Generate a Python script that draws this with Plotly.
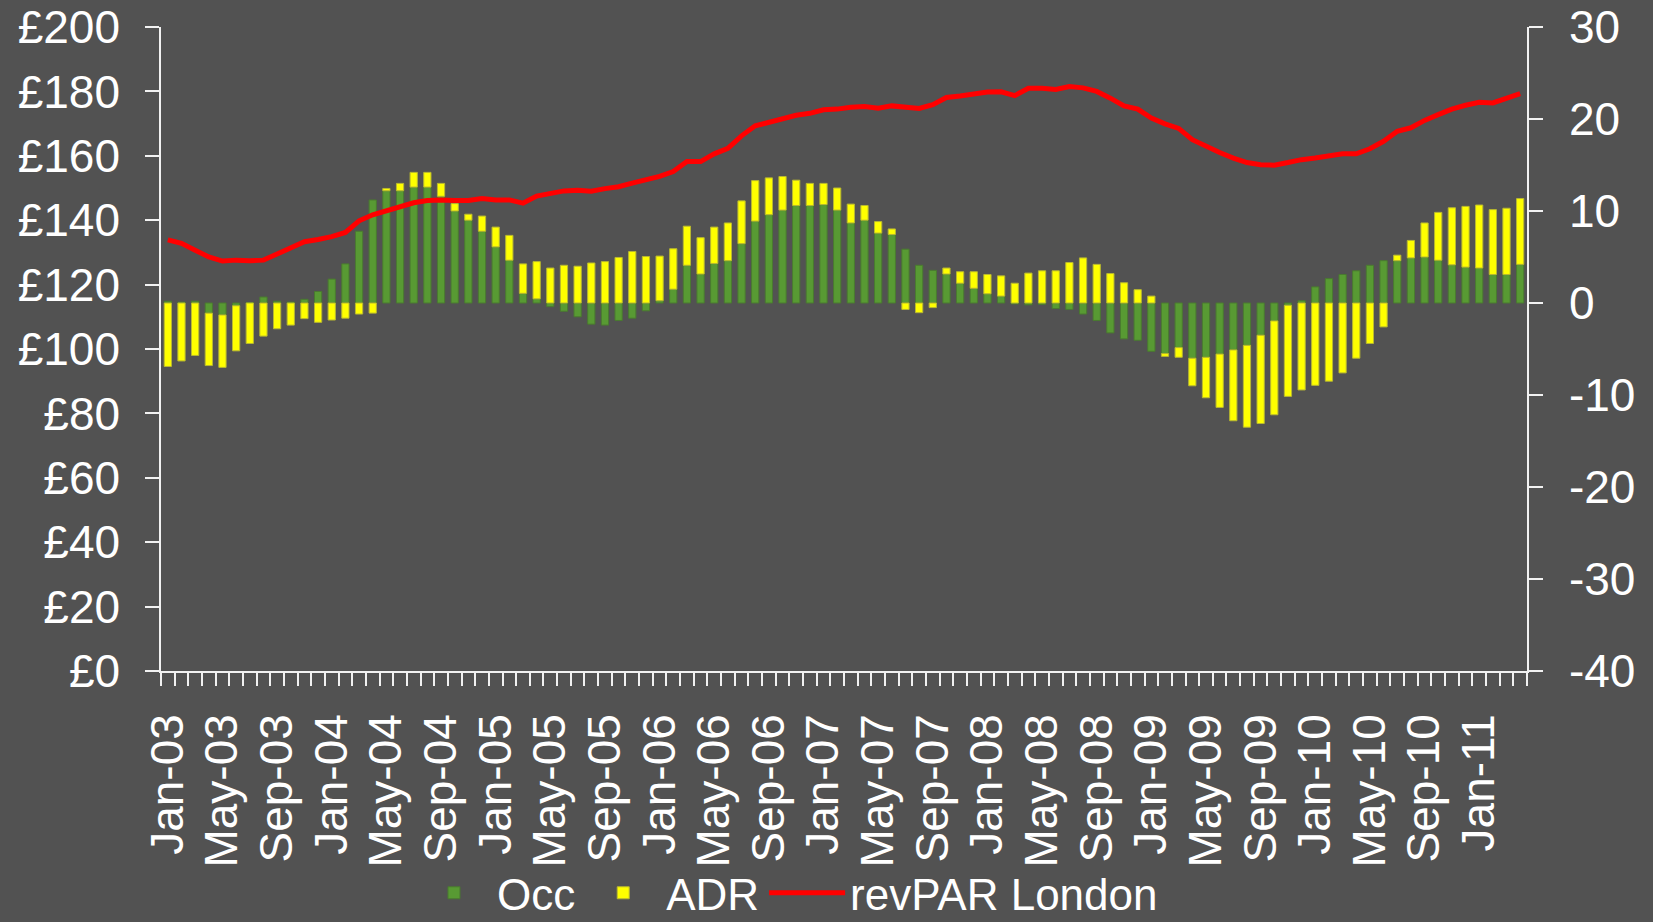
import plotly.graph_objects as go

month_names = ["Jan", "Feb", "Mar", "Apr", "May", "Jun", "Jul", "Aug", "Sep", "Oct", "Nov", "Dec"]
years = ["03", "04", "05", "06", "07", "08", "09", "10", "11"]
months = [f"{m}-{y}" for y in years for m in month_names][:100]  # Jan-03 .. Apr-11
tick_text = [lab if i % 4 == 0 else " " for i, lab in enumerate(months)]

right_ticks = [-40, -30, -20, -10, 0, 10, 20, 30]
right_tick_text = ["-40", "-30", "-20", "-10", "0", "10", "20", "30"]
left_ticks = [0, 20, 40, 60, 80, 100, 120, 140, 160, 180, 200]
left_tick_text = ["£0", "£20", "£40", "£60", "£80", "£100", "£120", "£140", "£160", "£180", "£200"]

occ = [0.2, 0.1, 0.2, -1.1, -1.3, -0.3, 0.05, 0.65, 0.2, 0.1, 0.4, 1.25,
       2.6, 4.25, 7.8, 11.2, 12.2, 12.2, 12.6, 12.6, 11.6, 10.0, 9.0, 7.8,
       6.1, 4.65, 1.05, 0.45, -0.4, -0.9, -1.5, -2.3, -2.4, -1.9, -1.65, -0.85,
       0.25, 1.5, 4.1, 3.15, 4.3, 4.6, 6.45, 8.9, 9.6, 10.1, 10.6, 10.6,
       10.7, 10.1, 8.7, 9.0, 7.6, 7.45, 5.85, 4.1, 3.55, 3.15, 2.15, 1.6,
       1.0, 0.75, -0.1, -0.2, -0.15, -0.6, -0.7, -1.2, -1.9, -3.25, -3.9, -4.05,
       -5.25, -5.5, -4.85, -6.0, -5.9, -5.55, -5.1, -4.6, -3.5, -1.95, -0.25, 0.25,
       1.75, 2.65, 3.1, 3.5, 4.1, 4.6, 4.6, 4.9, 5.0, 4.65, 4.15, 3.9,
       3.8, 3.1, 3.1, 4.2]

adr = [-6.9, -6.3, -5.7, -5.7, -5.7, -4.9, -4.4, -3.6, -2.8, -2.4, -1.7, -2.1,
       -1.85, -1.65, -1.2, -1.1, 0.25, 0.8, 1.6, 1.6, 1.4, 0.8, 0.65, 1.65,
       2.15, 2.7, 3.2, 4.05, 3.8, 4.1, 4.0, 4.35, 4.5, 4.95, 5.6, 5.05,
       4.85, 4.4, 4.25, 3.95, 3.95, 4.1, 4.65, 4.4, 4.0, 3.65, 2.75, 2.4,
       2.3, 2.4, 2.05, 1.6, 1.25, 0.6, -0.7, -1.05, -0.5, 0.65, 1.25, 1.8,
       2.1, 2.2, 2.15, 3.25, 3.5, 3.5, 4.4, 4.9, 4.2, 3.2, 2.2, 1.45,
       0.75, -0.3, -1.05, -3.0, -4.4, -5.8, -7.7, -8.9, -9.6, -10.2, -9.9, -9.45,
       -8.95, -8.5, -7.6, -6.0, -4.4, -2.6, 0.6, 1.9, 3.7, 5.2, 6.2, 6.6,
       6.85, 7.05, 7.2, 7.15]

revpar = [133.9, 132.8, 130.7, 128.6, 127.3, 127.6, 127.4, 127.6, 129.5, 131.5, 133.3, 134.0,
          134.9, 136.2, 139.8, 141.7, 142.9, 144.2, 145.4, 146.1, 146.3, 146.1, 146.1, 146.7,
          146.3, 146.3, 145.3, 147.5, 148.4, 149.1, 149.3, 149.0, 149.8, 150.4, 151.5, 152.5,
          153.6, 155.1, 158.2, 158.2, 160.6, 162.3, 166.2, 169.3, 170.3, 171.7, 172.6, 173.2,
          174.3, 174.5, 175.1, 175.3, 174.8, 175.5, 175.1, 174.7, 175.9, 178.1, 178.6, 179.3,
          179.8, 179.9, 178.7, 181.0, 181.0, 180.6, 181.5, 181.1, 180.0, 177.9, 175.5, 174.5,
          171.7, 169.9, 168.5, 165.0, 162.9, 161.0, 159.3, 157.9, 157.2, 157.1, 157.9, 158.8,
          159.3, 159.8, 160.6, 160.6, 162.2, 164.5, 167.6, 168.7, 171.0, 172.8, 174.5, 175.7,
          176.6, 176.4, 177.8, 179.3]

BG = "#525252"
FONT = "Liberation Sans, Arial, sans-serif"
AX = "#f2f2f2"

fig = go.Figure()
fig.add_trace(go.Bar(x=months, y=occ, name="Occ", yaxis="y",
                     marker=dict(color="#589a33", line=dict(color="#4a7a30", width=1))))
fig.add_trace(go.Bar(x=months, y=adr, name="ADR", yaxis="y",
                     marker=dict(color="#ffff00", line=dict(color="#b8b830", width=1))))
fig.add_trace(go.Scatter(x=months, y=revpar, name="revPAR London", yaxis="y2",
                         mode="lines", line=dict(color="#ff0000", width=5)))

fig.update_layout(
    width=1653, height=922,
    paper_bgcolor=BG, plot_bgcolor=BG,
    font=dict(family=FONT, size=46, color="white"),
    margin=dict(l=161, r=126, t=27, b=251, autoexpand=False),
    barmode="relative", bargap=0.47,
    showlegend=True,
    legend=dict(orientation="h", x=0.183, xanchor="left", y=-0.345, yanchor="middle",
                font=dict(size=44, color="white"), bgcolor="rgba(0,0,0,0)",
                itemwidth=76, tracegroupgap=0),
    xaxis=dict(type="category", range=[-0.5, 99.5], tickmode="array",
               tickvals=months, ticktext=tick_text, tickangle=-90,
               tickson="boundaries", ticks="outside", ticklen=13, tickcolor=AX, tickwidth=1.5,
               showline=True, linecolor=AX, linewidth=1.5, showgrid=False, zeroline=False,
               automargin=False,
               ticklabelstandoff=23, tickfont=dict(size=46, color="white")),
    yaxis=dict(side="right", range=[-40, 30], tickmode="array",
               tickvals=right_ticks, ticktext=right_tick_text,
               showline=True, linecolor=AX, linewidth=1.5, ticks="outside", ticklen=14,
               tickcolor=AX, tickwidth=1.5, showgrid=False, zeroline=False, automargin=False,
               ticklabelstandoff=17, tickfont=dict(size=46, color="white")),
    yaxis2=dict(side="left", overlaying="y", range=[0, 200], tickmode="array",
                tickvals=left_ticks, ticktext=left_tick_text,
                showline=True, linecolor=AX, linewidth=1.5,
                ticks="outside", ticklen=14, tickcolor=AX, tickwidth=1.5,
                showgrid=False, zeroline=False, automargin=False, ticklabelstandoff=16,
                tickfont=dict(size=46, color="white")),
)

fig.write_html("out.html", config={"displayModeBar": False},
               post_script="document.body.style.margin='0';document.body.style.background='#525252';")
